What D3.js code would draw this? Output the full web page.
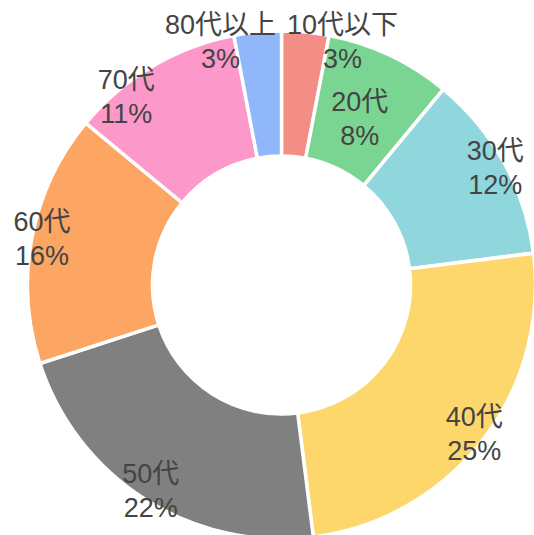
<!DOCTYPE html>
<html>
<head>
<meta charset="utf-8">
<script src="https://cdn.jsdelivr.net/npm/d3@7"></script>
<style>
  html, body { margin: 0; padding: 0; background: #fff; }
</style>
</head>
<body>
<div id="chart"></div>
<script>
// 年代別の構成比
const categories = ["10代以下", "20代", "30代", "40代", "50代", "60代", "70代", "80代以上"];
const values = [3, 8, 12, 25, 22, 16, 11, 3];
const sliceColors = ["#f28e86", "#7bd592", "#8fd6dd", "#fdd76c", "#808080", "#fda663", "#fd98ca", "#8fb7f9"];

const width = 534;
const height = 535;
const cx = 281.5, cy = 285;
const outerR = 254;
const innerR = 129;

const data = categories.map((c, i) => ({ category: c, value: values[i], color: sliceColors[i] }));
const total = d3.sum(values);

const svg = d3.select("#chart").append("svg")
    .attr("width", width)
    .attr("height", height)
    .style("font-family", "'Liberation Sans', Arial, 'Noto Sans CJK JP', sans-serif");

const g = svg.append("g").attr("transform", `translate(${cx},${cy})`);

const pie = d3.pie().value(d => d.value).sort(null);
const arcs = pie(data);

const arc = d3.arc().innerRadius(innerR).outerRadius(outerR);

g.selectAll("path.slice")
    .data(arcs)
    .join("path")
    .attr("class", "slice")
    .attr("d", arc)
    .attr("fill", d => d.data.color)
    .attr("stroke", "#fff")
    .attr("stroke-width", 3.5);

// ラベル（2行：カテゴリ＋割合）
const fontSize = 27;
const lineH = 34;
const labelR = outerR * 0.96;

const labels = g.selectAll("g.label")
    .data(arcs)
    .join("g")
    .attr("class", "label");

const txt = labels.append("text")
    .attr("text-anchor", "middle")
    .style("font-size", fontSize + "px")
    .style("fill", "#444");

txt.append("tspan")
    .attr("x", 0).attr("y", -lineH / 2)
    .attr("dominant-baseline", "central")
    .text(d => d.data.category);
txt.append("tspan")
    .attr("x", 0).attr("y", lineH / 2)
    .attr("dominant-baseline", "central")
    .text(d => Math.round(d.data.value / total * 100) + "%");

// 初期位置（外周寄り）と重なり回避
const items = arcs.map((d, i) => {
    const bb = txt.nodes()[i].getBBox();
    return { t: (d.startAngle + d.endAngle) / 2, r: labelR, dx: 0, w: bb.width, h: lineH * 2 - 6 };
});
const pos = it => ({ x: it.r * Math.sin(it.t) + it.dx, y: -it.r * Math.cos(it.t) });

const overlap = (a, b) => {
    const p = pos(a), q = pos(b);
    return Math.abs(p.x - q.x) < (a.w + b.w) / 2 + 10 && Math.abs(p.y - q.y) < (a.h + b.h) / 2 + 14;
};

for (let iter = 0; iter < 400; iter++) {
    let moved = false;
    for (let i = 0; i < items.length; i++) {
        for (let j = i + 1; j < items.length; j++) {
            const a = items[i], b = items[j];
            if (!overlap(a, b)) continue;
            moved = true;
            const p = pos(a), q = pos(b);
            if (Math.abs(p.y - q.y) < 12) {
                const s = p.x < q.x ? -1 : 1;
                a.dx += s; b.dx -= s;
            } else {
                const low = p.y > q.y ? a : b;
                if (low.t < Math.PI) low.r -= 1;          // 右側は内側へ
                else low.t -= 1 / low.r;                  // 左側は円周に沿って下へ
            }
        }
    }
    if (!moved) break;
}

labels.attr("transform", (d, i) => {
    const p = pos(items[i]);
    return `translate(${p.x},${p.y})`;
});
</script>
</body>
</html>
